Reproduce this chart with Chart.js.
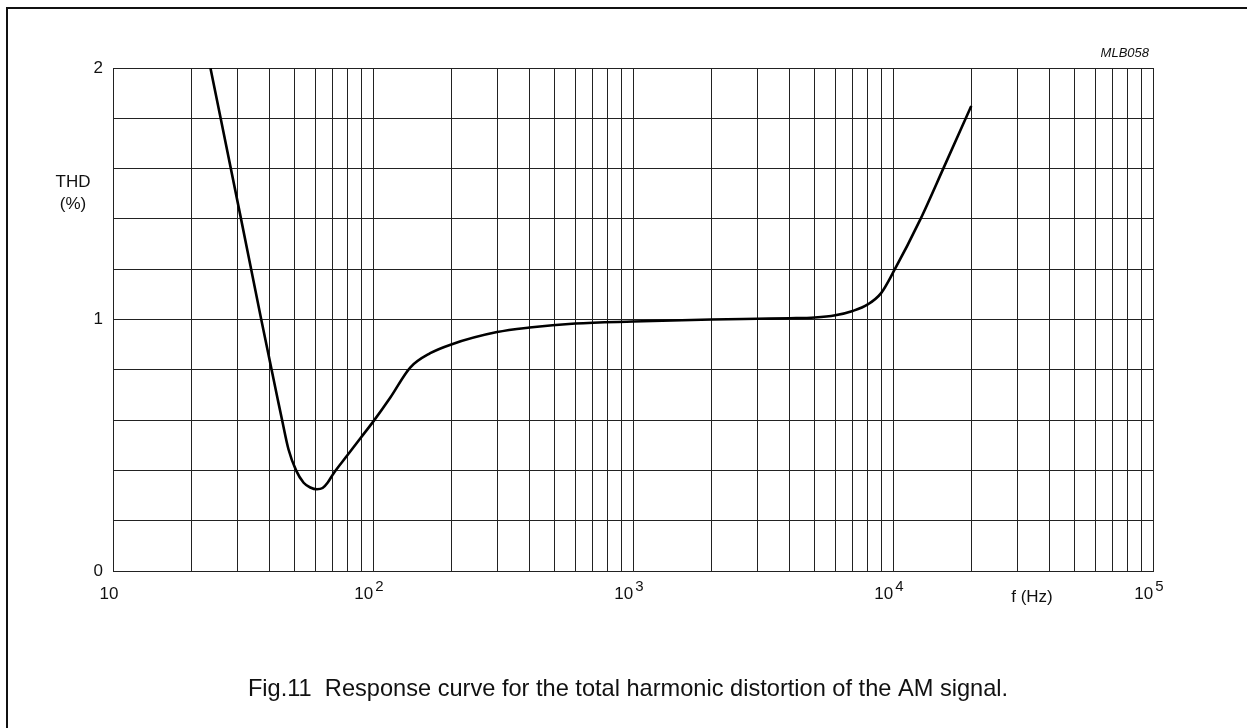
<!DOCTYPE html>
<html>
<head>
<meta charset="utf-8">
<script src="https://cdn.jsdelivr.net/npm/chart.js@4.4.1/dist/chart.umd.min.js"></script>
<style>
  html, body { margin: 0; padding: 0; background: #fff; overflow: hidden; }
  #frame { position: absolute; left: 6px; top: 7px; width: 1300px; height: 800px; border: 2px solid #111; }
  #wrap { position: absolute; left: 0; top: 0; width: 1247px; height: 728px; }
</style>
</head>
<body>
<div id="frame"></div>
<div id="wrap"><canvas id="thdChart" width="1247" height="728"></canvas></div>
<script>
// curve: frequency (Hz) and THD (%)
const freqHz = [23.7, 30.8, 37, 43, 44.7, 47.3, 50.6, 54.1, 57.4, 60.9, 64, 67, 70.5, 79.4, 89.3, 100.5, 116.6, 139, 166, 200, 300, 400, 600, 1000, 2000, 3000, 4000, 5000, 6000, 7000, 8000, 9000, 10000, 12740, 15670, 20000];
const thdPct = [2.0, 1.42, 1.01, 0.683, 0.6, 0.484, 0.4, 0.351, 0.332, 0.325, 0.33, 0.352, 0.388, 0.458, 0.527, 0.596, 0.69, 0.809, 0.866, 0.901, 0.95, 0.968, 0.984, 0.992, 1.0, 1.003, 1.005, 1.008, 1.017, 1.034, 1.06, 1.105, 1.186, 1.398, 1.604, 1.849];

// axis ticks
const xTickValues = [10, 100, 1000, 10000, 100000];
const xTickExps = ['', '2', '3', '4', '5'];
const yTickLabels = [0, 1, 2];
const yStep = 0.2;

// grid lines at 1..9 x each decade
const gridFreqs = [];
for (let d = 0; d < xTickValues.length - 1; d++) {
    for (let m = 1; m < 10; m++) gridFreqs.push(m * xTickValues[d]);
}
gridFreqs.push(xTickValues[xTickValues.length - 1]);

const points = freqHz.map((f, i) => ({ x: f, y: thdPct[i] }));

const labelFont = '17px "Liberation Sans", Arial, sans-serif';
const ink = '#111';

const textPlugin = {
    id: 'figText',
    afterDraw(chart) {
        const ctx = chart.ctx;
        const xs = chart.scales.x;
        ctx.save();
        ctx.fillStyle = ink;
        ctx.textBaseline = 'middle';

        // x tick labels with superscript exponents
        xTickValues.forEach((v, i) => {
            const px = xs.getPixelForValue(v);
            ctx.font = labelFont;
            const wBase = ctx.measureText('10').width;
            ctx.font = '15px "Liberation Sans", Arial, sans-serif';
            const wExp = xTickExps[i] ? ctx.measureText(xTickExps[i]).width + 2 : 0;
            const left = px - 4 - (wBase + wExp) / 2;
            ctx.font = labelFont;
            ctx.textAlign = 'left';
            ctx.fillText('10', left, 594);
            if (xTickExps[i]) {
                ctx.font = '15px "Liberation Sans", Arial, sans-serif';
                ctx.fillText(xTickExps[i], left + wBase + 2, 587);
            }
        });

        // axis titles
        ctx.font = labelFont;
        ctx.textAlign = 'center';
        ctx.fillText('THD', 73, 182);
        ctx.fillText('(%)', 73, 204);
        ctx.fillText('f (Hz)', 1032, 597);

        // figure code
        ctx.font = 'italic 13px "Liberation Sans", Arial, sans-serif';
        ctx.textAlign = 'right';
        ctx.fillText('MLB058', 1149, 53);

        // caption
        ctx.font = '23.6px "Liberation Sans", Arial, sans-serif';
        ctx.textAlign = 'center';
        ctx.fillText('Fig.11  Response curve for the total harmonic distortion of the AM signal.', 628, 689);
        ctx.restore();
    }
};

const ctx = document.getElementById('thdChart').getContext('2d');
const chart = new Chart(ctx, {
    type: 'line',
    data: {
        datasets: [{
            data: points,
            borderColor: '#000',
            borderWidth: 2.6,
            pointRadius: 0,
            fill: false,
            cubicInterpolationMode: 'monotone'
        }]
    },
    options: {
        responsive: false,
        animation: false,
        events: [],
        layout: { padding: { left: 0, top: 68, right: 94, bottom: 157 } },
        plugins: { legend: { display: false }, tooltip: { enabled: false } },
        scales: {
            x: {
                type: 'logarithmic',
                min: xTickValues[0],
                max: xTickValues[xTickValues.length - 1],
                afterBuildTicks: s => { s.ticks = gridFreqs.map(v => ({ value: v })); },
                afterFit: s => { s.height = 0; },
                ticks: { display: false, autoSkip: false },
                grid: { color: '#222', lineWidth: 1, drawTicks: false },
                border: { color: '#222', width: 1 }
            },
            y: {
                min: 0,
                max: 2,
                afterFit: s => { s.width = 113; },
                ticks: {
                    stepSize: yStep,
                    padding: 10,
                    color: ink,
                    font: { family: '"Liberation Sans", Arial, sans-serif', size: 17 },
                    callback: v => yTickLabels.includes(Math.round(v * 1000) / 1000) ? String(Math.round(v)) : ''
                },
                grid: { color: '#222', lineWidth: 1, drawTicks: false },
                border: { color: '#222', width: 1 }
            }
        }
    },
    plugins: [textPlugin]
});
</script>
</body>
</html>
